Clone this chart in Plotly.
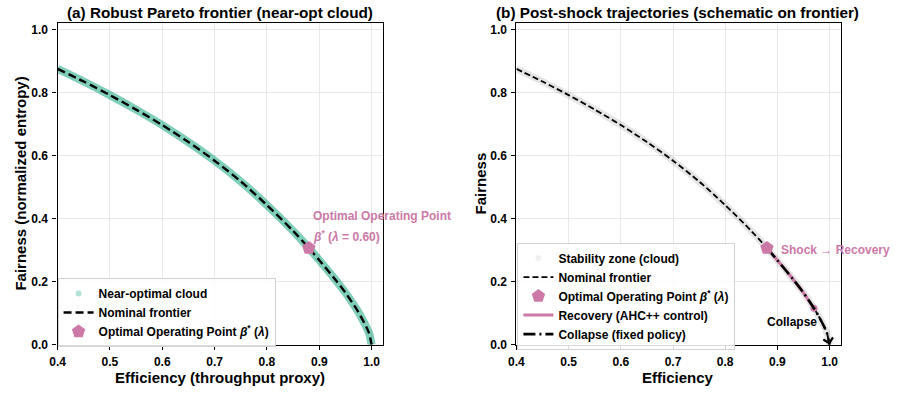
import plotly.graph_objects as go
from plotly.subplots import make_subplots

# ---- data ----
frontier_x = [0.40, 0.45, 0.50, 0.55, 0.60, 0.65, 0.70, 0.75, 0.80, 0.85, 0.88, 0.90, 0.93, 0.95, 0.97, 0.98, 0.99, 0.995, 1.00]
frontier_y = [0.875, 0.835, 0.792, 0.746, 0.697, 0.643, 0.584, 0.518, 0.443, 0.361, 0.307, 0.268, 0.208, 0.165, 0.116, 0.088, 0.056, 0.037, 0.0]

opt_x = [0.88]
opt_y = [0.307]

recovery_x = [0.88, 0.90, 0.93, 0.95, 0.97]
recovery_y = [0.307, 0.268, 0.208, 0.165, 0.116]

collapse_x = [0.88, 0.90, 0.93, 0.95, 0.97, 0.98, 0.99, 0.995, 1.00]
collapse_y = [0.307, 0.268, 0.208, 0.165, 0.116, 0.088, 0.056, 0.037, 0.0]

x_ticks = [0.4, 0.5, 0.6, 0.7, 0.8, 0.9, 1.0]
y_ticks = [0.0, 0.2, 0.4, 0.6, 0.8, 1.0]

GREEN = "rgb(0,158,115)"
PINK = "rgb(204,121,167)"
FONT = "Liberation Sans, Arial, sans-serif"

fig = make_subplots(rows=1, cols=2)

# ---------- panel (a) ----------
fig.add_trace(go.Scatter(x=frontier_x, y=frontier_y, mode="lines",
                         line=dict(color="rgba(0,158,115,0.5)", width=8, shape="spline", smoothing=0.8),
                         showlegend=False, hoverinfo="skip"), row=1, col=1)
fig.add_trace(go.Scatter(x=[None], y=[None], mode="markers", name="Near-optimal cloud",
                         marker=dict(color="rgba(0,158,115,0.3)", size=6),
                         legend="legend", legendrank=1), row=1, col=1)
fig.add_trace(go.Scatter(x=frontier_x, y=frontier_y, mode="lines", name="Nominal frontier",
                         line=dict(color="black", width=2.4, dash="8px,4px", shape="spline", smoothing=0.8),
                         legend="legend", legendrank=2), row=1, col=1)
fig.add_trace(go.Scatter(x=opt_x, y=opt_y, mode="markers",
                         name="Optimal Operating Point <i>β</i><sup>*</sup> (<i>λ</i>)",
                         marker=dict(symbol="pentagon", color=PINK, size=14),
                         legend="legend", legendrank=3), row=1, col=1)

# ---------- panel (b) ----------
fig.add_trace(go.Scatter(x=frontier_x, y=frontier_y, mode="lines",
                         line=dict(color="rgba(0,0,0,0.10)", width=7, shape="spline", smoothing=0.8),
                         showlegend=False, hoverinfo="skip"), row=1, col=2)
fig.add_trace(go.Scatter(x=[None], y=[None], mode="markers", name="Stability zone (cloud)",
                         marker=dict(color="rgba(0,0,0,0.06)", size=6),
                         legend="legend2", legendrank=1), row=1, col=2)
fig.add_trace(go.Scatter(x=frontier_x, y=frontier_y, mode="lines", name="Nominal frontier",
                         line=dict(color="black", width=1.8, dash="6px,3px", shape="spline", smoothing=0.8),
                         legend="legend2", legendrank=2), row=1, col=2)
fig.add_trace(go.Scatter(x=recovery_x, y=recovery_y, mode="lines", name="Recovery (AHC++ control)",
                         line=dict(color=PINK, width=3, shape="spline", smoothing=0.8),
                         legend="legend2", legendrank=4), row=1, col=2)
fig.add_trace(go.Scatter(x=[recovery_x[-1]], y=[recovery_y[-1]], mode="markers",
                         marker=dict(color=PINK, size=7), showlegend=False), row=1, col=2)
fig.add_trace(go.Scatter(x=collapse_x, y=collapse_y, mode="lines", name="Collapse (fixed policy)",
                         line=dict(color="black", width=2.6, dash="12px,4px,2px,4px", shape="spline", smoothing=0.8),
                         legend="legend2", legendrank=5), row=1, col=2)
fig.add_trace(go.Scatter(x=opt_x, y=opt_y, mode="markers",
                         name="Optimal Operating Point <i>β</i><sup>*</sup> (<i>λ</i>)",
                         marker=dict(symbol="pentagon", color=PINK, size=14),
                         legend="legend2", legendrank=3), row=1, col=2)

# ---------- axes ----------
axis_common = dict(showline=True, mirror=True, linecolor="black", linewidth=1.3,
                   ticks="outside", ticklen=4, tickcolor="black", tickwidth=1.2,
                   showgrid=True, gridcolor="rgb(232,232,232)", gridwidth=1,
                   zeroline=False, tickformat=".1f",
                   tickfont=dict(family=FONT, size=12, color="black", weight="bold"))
fig.update_xaxes(range=[0.4, 1.021], tickvals=x_ticks, ticklabelstandoff=2, **axis_common)
fig.update_yaxes(range=[0.0, 1.022], tickvals=y_ticks, ticklabelstandoff=2, **axis_common)

fig.update_layout(
    xaxis=dict(domain=[50 / 901, 378 / 901]),
    xaxis2=dict(domain=[513 / 901, 840 / 901]),
    yaxis=dict(domain=[1 - 351 / 395, 1 - 23 / 395]),
    yaxis2=dict(domain=[1 - 351 / 395, 1 - 23 / 395]),
)

legend_common = dict(font=dict(family=FONT, size=12, color="black", weight="bold"),
                     bgcolor="rgba(255,255,255,0.85)", bordercolor="rgb(210,210,210)",
                     borderwidth=1, xanchor="left", yanchor="top", tracegroupgap=0,
                     itemwidth=30)

fig.update_layout(
    width=901, height=395,
    margin=dict(l=0, r=0, t=0, b=0),
    paper_bgcolor="white", plot_bgcolor="white",
    font=dict(family=FONT, size=12, color="black", weight="bold"),
    legend=dict(x=50 / 901, y=1 - 283 / 395, **legend_common),
    legend2=dict(x=514 / 901, y=1 - 247 / 395, **legend_common),
)

# ---------- text annotations ----------
def txt(x, y, text, size=15, angle=0, color="black", xref="paper", yref="paper",
        xanchor="center", yanchor="middle", align="center"):
    fig.add_annotation(x=x, y=y, xref=xref, yref=yref, text=text, showarrow=False,
                       textangle=angle, xanchor=xanchor, yanchor=yanchor, align=align,
                       font=dict(family=FONT, size=size, color=color, weight="bold"))

txt(214 / 901, 1 - 13 / 395, "(a) Robust Pareto frontier (near-opt cloud)", size=15.3)
txt(676 / 901, 1 - 13 / 395, "(b) Post-shock trajectories (schematic on frontier)", size=15.3)
txt(214 / 901, 1 - 384 / 395, "Efficiency (throughput proxy)")
txt(676 / 901, 1 - 384 / 395, "Efficiency")
txt(13 / 901, 1 - 187 / 395, "Fairness (normalized entropy)", angle=-90)
txt(477 / 901, 1 - 187 / 395, "Fairness", angle=-90)

txt(0.885, 0.407, "Optimal Operating Point", size=12,
    color=PINK, xref="x", yref="y", xanchor="left", align="left")
txt(0.885, 0.345, "<i>β</i><sup>*</sup> (<i>λ</i> = 0.60)", size=12,
    color=PINK, xref="x", yref="y", xanchor="left", align="left")
txt(0.904, 0.30, "Shock → Recovery", size=12, color=PINK, xref="x2", yref="y2", xanchor="left")
txt(0.928, 0.072, "Collapse", size=12, xref="x2", yref="y2")

fig.add_annotation(x=1.0, y=0.0, xref="x2", yref="y2", ax=0.996, ay=0.03,
                   axref="x2", ayref="y2", text="", showarrow=True,
                   arrowhead=4, arrowsize=1.2, arrowwidth=1.6, arrowcolor="black")

fig.write_html("out.html")
